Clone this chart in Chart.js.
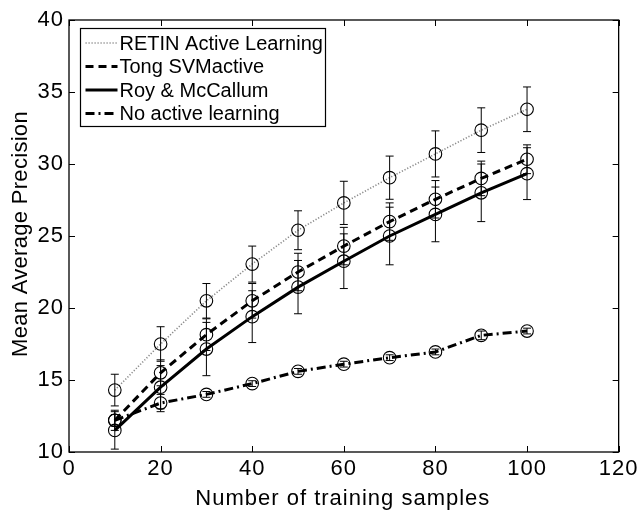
<!DOCTYPE html>
<html><head><meta charset="utf-8">
<script src="https://cdn.jsdelivr.net/npm/chart.js@4.4.1/dist/chart.umd.min.js"></script>
<style>html,body{margin:0;padding:0;background:#fff}</style>
</head><body>
<canvas id="c" width="641" height="511"></canvas>
<script>
const samples = [10, 20, 30, 40, 50, 60, 70, 80, 90, 100];
const retin = [14.3, 17.5, 20.5, 23.05, 25.4, 27.3, 29.05, 30.7, 32.35, 33.8];
const retinErr = [1.1, 1.2, 1.2, 1.25, 1.35, 1.5, 1.5, 1.6, 1.55, 1.55];
const tong = [12.2, 15.5, 18.15, 20.5, 22.5, 24.3, 26.0, 27.55, 29.0, 30.33];
const tongErr = [0.7, 0.9, 1.1, 1.2, 1.3, 1.3, 1.3, 1.3, 1.2, 1.0];
const roy = [11.5, 14.5, 17.15, 19.4, 21.45, 23.25, 25.0, 26.5, 28.0, 29.33];
const royErr = [1.3, 1.5, 1.85, 1.8, 1.85, 1.9, 2.0, 1.9, 2.0, 1.8];
const noActive = [12.2, 13.4, 14.0, 14.75, 15.6, 16.1, 16.55, 16.95, 18.1, 18.4];
const noActiveErr = [0.4, 0.6, 0.2, 0.2, 0.2, 0.2, 0.2, 0.2, 0.3, 0.2];
const seriesNames = ['RETIN Active Learning', 'Tong SVMactive', 'Roy & McCallum', 'No active learning'];
const xTicks = [0, 20, 40, 60, 80, 100, 120];
const yTicks = [10, 15, 20, 25, 30, 35, 40];
const xTitle = 'Number of training samples';
const yTitle = 'Mean Average Precision';

const FONT = '"Liberation Sans", Arial, Helvetica, sans-serif';
Chart.defaults.font.family = FONT;
Chart.defaults.font.size = 22;
Chart.defaults.color = '#000';

function pts(vals) { return samples.map((s, i) => ({x: s, y: vals[i]})); }

const styles = [
  {color: '#8a8a8a', width: 1.6, dash: [1.2, 1.8]},
  {color: '#000', width: 3, dash: [8, 5]},
  {color: '#000', width: 3, dash: []},
  {color: '#000', width: 3, dash: [9, 4, 2, 4]}
];
const seriesVals = [retin, tong, roy, noActive];
const seriesErrs = [retinErr, tongErr, royErr, noActiveErr];

const datasets = seriesVals.map((v, i) => ({
  label: seriesNames[i],
  data: pts(v),
  errors: seriesErrs[i],
  borderColor: styles[i].color,
  borderWidth: styles[i].width,
  borderDash: styles[i].dash,
  tension: 0,
  fill: false,
  pointRadius: 6.3,
  pointBorderWidth: 1.1,
  pointBorderColor: '#000',
  pointBackgroundColor: 'rgba(0,0,0,0)',
  pointStyle: 'circle'
}));

const spacing = {
  id: 'spacing',
  beforeDraw(chart) { chart.ctx.letterSpacing = '1px'; }
};

const errorBars = {
  id: 'errorBars',
  afterDatasetsDraw(chart) {
    const {ctx, scales: {x, y}} = chart;
    ctx.save();
    ctx.strokeStyle = '#000';
    ctx.lineWidth = 1;
    ctx.setLineDash([]);
    chart.data.datasets.forEach(ds => {
      ds.data.forEach((p, i) => {
        const e = ds.errors[i];
        const px = x.getPixelForValue(p.x);
        const top = y.getPixelForValue(p.y + e);
        const bot = y.getPixelForValue(p.y - e);
        ctx.beginPath();
        ctx.moveTo(px, top); ctx.lineTo(px, bot);
        ctx.moveTo(px - 4, top); ctx.lineTo(px + 4, top);
        ctx.moveTo(px - 4, bot); ctx.lineTo(px + 4, bot);
        ctx.stroke();
      });
    });
    ctx.restore();
  }
};

const frame = {
  id: 'frame',
  afterDatasetsDraw(chart) {
    const {ctx, chartArea: a, scales: {x, y}} = chart;
    ctx.save();
    ctx.strokeStyle = '#000';
    ctx.lineWidth = 1.3;
    ctx.setLineDash([]);
    ctx.strokeRect(a.left, a.top, a.right - a.left, a.bottom - a.top);
    ctx.lineWidth = 1;
    ctx.beginPath();
    const L = 6;
    xTicks.forEach(t => {
      const px = Math.round(x.getPixelForValue(t)) + 0.5;
      ctx.moveTo(px, a.bottom); ctx.lineTo(px, a.bottom - L);
      ctx.moveTo(px, a.top); ctx.lineTo(px, a.top + L);
    });
    yTicks.forEach(t => {
      const py = Math.round(y.getPixelForValue(t)) + 0.5;
      ctx.moveTo(a.left, py); ctx.lineTo(a.left + L, py);
      ctx.moveTo(a.right, py); ctx.lineTo(a.right - L, py);
    });
    ctx.stroke();
    ctx.restore();
  }
};

const titlesAndLegend = {
  id: 'titlesAndLegend',
  afterDraw(chart) {
    const {ctx, chartArea: a} = chart;
    ctx.save();
    ctx.fillStyle = '#000';
    // axis titles
    ctx.font = '22px ' + FONT;
    ctx.letterSpacing = '1px';
    ctx.textAlign = 'center';
    ctx.textBaseline = 'alphabetic';
    ctx.fillText(xTitle, (a.left + a.right) / 2 - 1, 505);
    ctx.save();
    ctx.letterSpacing = '0.3px';
    ctx.translate(26.5, (a.top + a.bottom) / 2 - 2);
    ctx.rotate(-Math.PI / 2);
    ctx.fillText(yTitle, 0, 0);
    ctx.restore();
    // legend
    ctx.letterSpacing = '0px';
    const bx = a.left + 11.5, by = a.top + 8.5, bw = 245, bh = 98;
    ctx.fillStyle = '#fff';
    ctx.fillRect(bx, by, bw, bh);
    ctx.strokeStyle = '#000';
    ctx.lineWidth = 1.2;
    ctx.setLineDash([]);
    ctx.strokeRect(bx, by, bw, bh);
    ctx.font = '20px ' + FONT;
    ctx.textAlign = 'left';
    ctx.textBaseline = 'middle';
    ctx.fillStyle = '#000';
    chart.data.datasets.forEach((ds, i) => {
      const cy = by + 14.5 + i * 23.5;
      ctx.strokeStyle = ds.borderColor;
      ctx.lineWidth = ds.borderWidth;
      ctx.setLineDash(ds.borderDash);
      ctx.beginPath();
      ctx.moveTo(bx + 5, cy); ctx.lineTo(bx + 37, cy);
      ctx.stroke();
      ctx.setLineDash([]);
      ctx.fillText(ds.label, bx + 39, cy + 1);
    });
    ctx.restore();
  }
};

new Chart(document.getElementById('c'), {
  type: 'line',
  data: {datasets},
  options: {
    responsive: false,
    animation: false,
    layout: {padding: {left: 0, top: 20, right: 22, bottom: 0}},
    plugins: {legend: {display: false}, tooltip: {enabled: false}},
    scales: {
      x: {
        type: 'linear', min: 0, max: 120,
        afterBuildTicks: s => { s.ticks = xTicks.map(v => ({value: v})); },
        ticks: {padding: 4, maxRotation: 0, autoSkip: false, color: '#000', font: {size: 22}},
        grid: {display: false, drawTicks: false},
        border: {display: false},
        title: {display: false},
        afterFit: s => { s.height = 59; }
      },
      y: {
        type: 'linear', min: 10, max: 40,
        afterBuildTicks: s => { s.ticks = yTicks.map(v => ({value: v})); },
        ticks: {padding: 5, color: '#000', font: {size: 22}},
        grid: {display: false, drawTicks: false},
        border: {display: false},
        title: {display: false},
        afterFit: s => { s.width = 69; }
      }
    }
  },
  plugins: [spacing, errorBars, frame, titlesAndLegend]
});
</script>
</body></html>
